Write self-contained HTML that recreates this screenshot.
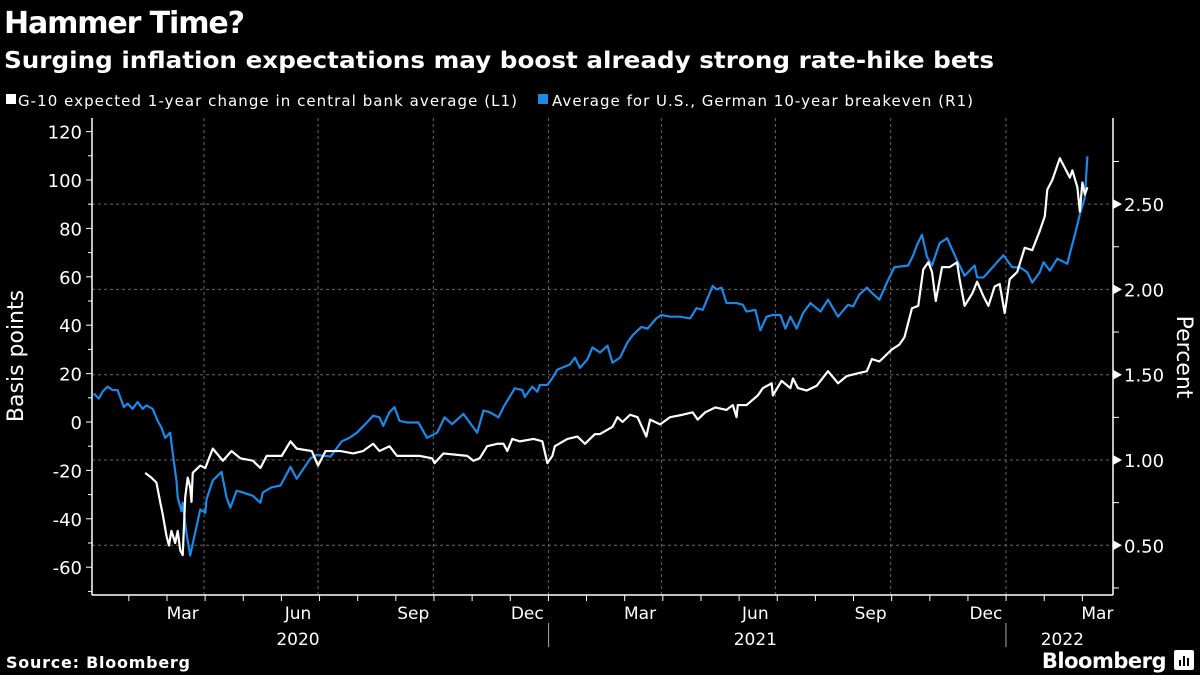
<!DOCTYPE html>
<html><head><meta charset="utf-8"><style>
body{margin:0;background:#000;width:1200px;height:675px;overflow:hidden;font-family:"DejaVu Sans",sans-serif;color:#fff}
svg{position:absolute;left:0;top:0}
text{font-family:"DejaVu Sans",sans-serif}
</style></head><body>
<svg id="chart" width="1200" height="675"></svg>
<script>
const blueDays=[3,7,10,14,18,22,27,30,34,38,42,45,50,54,57,60,64,66,69,70,73,74,77,80,82,88,92,93,98,105,109,112,117,122,130,136,138,145,152,160,165,176,181,192,201,207,213,221,226,231,234,239,243,247,253,262,269,277,283,289,298,303,309,314,319,326,330,339,345,347,353,357,359,365,369,373,383,387,391,397,401,407,413,417,423,429,433,440,445,452,456,463,471,479,484,489,497,500,504,508,516,521,524,531,535,540,545,551,555,559,564,569,575,583,589,597,605,609,614,620,624,630,636,642,653,657,660,664,668,672,678,684,692,698,706,708,713,718,724,729,736,742,748,752,758,761,766,772,780,782,786,790,794,796];
const blueValues=[1.39,1.36,1.40,1.43,1.41,1.41,1.31,1.33,1.30,1.34,1.30,1.32,1.30,1.23,1.19,1.13,1.16,1.04,0.88,0.78,0.70,0.75,0.57,0.44,0.51,0.71,0.69,0.77,0.88,0.93,0.78,0.72,0.82,0.81,0.79,0.75,0.81,0.84,0.85,0.96,0.89,1.01,1.03,1.02,1.11,1.13,1.16,1.22,1.26,1.25,1.20,1.28,1.31,1.23,1.22,1.22,1.13,1.16,1.25,1.21,1.27,1.22,1.16,1.29,1.28,1.25,1.31,1.42,1.41,1.37,1.43,1.40,1.44,1.44,1.48,1.53,1.56,1.60,1.54,1.59,1.66,1.63,1.67,1.57,1.60,1.69,1.73,1.78,1.77,1.83,1.85,1.84,1.84,1.83,1.89,1.88,2.02,2.00,2.01,1.92,1.92,1.91,1.87,1.88,1.76,1.84,1.85,1.85,1.77,1.84,1.77,1.86,1.92,1.87,1.94,1.84,1.91,1.90,1.97,2.01,1.98,1.94,2.04,2.13,2.14,2.20,2.26,2.32,2.19,2.14,2.27,2.30,2.17,2.08,2.14,2.07,2.07,2.11,2.16,2.20,2.13,2.13,2.10,2.04,2.10,2.16,2.11,2.18,2.15,2.21,2.32,2.44,2.54,2.78];
const whiteDays=[44,49,53,56,58,61,63,65,68,70,72,74,76,78,80,81,82,88,92,98,106,113,120,130,136,141,153,160,165,177,182,188,200,210,218,226,231,239,245,253,263,273,275,282,301,306,311,317,325,330,333,337,343,354,361,365,369,371,381,389,395,403,407,417,421,425,431,437,444,447,455,463,473,481,485,491,499,508,513,516,517,524,533,537,544,545,552,559,561,565,572,580,589,597,604,612,620,624,630,640,646,650,656,661,665,669,672,675,680,686,692,694,698,704,708,713,717,722,726,730,734,740,746,752,758,762,764,768,774,778,782,784,788,790,792,794,796];
const whiteValues=[-21,-23,-25,-33,-38,-47,-51,-45,-50,-45,-53,-55,-31,-23,-27,-33,-21,-18,-19,-11,-16,-12,-15,-16,-19,-14,-14,-8,-11,-12,-18,-12,-12,-13,-12,-9,-12,-10,-14,-14,-14,-15,-17,-13,-14,-16,-15,-10,-9,-9,-12,-7,-8,-7,-8,-17,-14,-10,-7,-6,-9,-5,-5,-2,2,0,3,2,-6,1,-1,2,3,4,1,4,6,5,7,2,7,7,11,14,16,11,17,14,18,14,13,15,21,16,19,20,21,26,25,30,32,35,47,48,63,66,62,50,64,64,66,59,48,53,58,52,48,56,57,45,59,62,72,71,79,85,96,100,109,105,101,104,97,87,99,94,97];
const leftTicks=[120,100,80,60,40,20,0,-20,-40,-60];
const rightTicks=[2.5,2.0,1.5,1.0,0.5];
const monthLabels=["Mar","Jun","Sep","Dec","Mar","Jun","Sep","Dec","Mar"];
const monthLabelDays=[74,166,258,349,439,531,623,715,804];
const gridDays=[91,182,274,366,456,547,639,731];
const yearLabels=["2020","2021","2022"];
const yearLabelDays=[166,531,776];
const yearSepDays=[366,731];

const X0=90,KX=1.253,PL=92,PR=1113,PT=118,PB=595;
const xs=d=>X0+d*KX;
const yl=v=>422-v*2.42;
const yr=p=>460-(p-1)*170.6;
const svg=document.getElementById('chart');
const NS='http://www.w3.org/2000/svg';
function mk(tag,attrs,parent){const e=document.createElementNS(NS,tag);for(const k in attrs)e.setAttribute(k,attrs[k]);(parent||svg).appendChild(e);return e;}
function txt(s,attrs){const e=mk('text',attrs);e.textContent=s;return e;}

let t;
t=txt('Hammer Time?',{x:4,y:33,'font-size':30,'font-weight':'bold',fill:'#fff',textLength:241});


t=txt('Surging inflation expectations may boost already strong rate-hike bets',{x:4,y:68,'font-size':23,'font-weight':'bold',fill:'#fff',textLength:990,lengthAdjust:'spacingAndGlyphs'});



let g=mk('g',{});


mk('rect',{x:6,y:94,width:10,height:10,fill:'#fff'},g);
const l1=mk('text',{x:18,y:106,'font-size':15,fill:'#fff',textLength:499},g);l1.textContent='G-10 expected 1-year change in central bank average (L1)';
g=mk('g',{});


mk('rect',{x:538,y:94,width:10,height:10,fill:'#1e88e5'},g);
const l2=mk('text',{x:552,y:106,'font-size':15,fill:'#fff',textLength:421},g);l2.textContent='Average for U.S., German 10-year breakeven (R1)';

rightTicks.forEach(p=>{const e=mk('line',{x1:PL,x2:PR,y1:yr(p),y2:yr(p),stroke:'#666','stroke-dasharray':'3,3','stroke-width':1});

});
gridDays.forEach(d=>{const e=mk('line',{x1:xs(d),x2:xs(d),y1:PT,y2:PB,stroke:'#666','stroke-dasharray':'3,3','stroke-width':1});

});

let a=mk('line',{x1:PL,x2:PL,y1:PT,y2:PB,stroke:'#fff','stroke-width':1.5});


a=mk('line',{x1:PR,x2:PR,y1:PT,y2:PB,stroke:'#fff','stroke-width':1.5});


a=mk('line',{x1:PL,x2:PR,y1:PB,y2:PB,stroke:'#fff','stroke-width':1.5});



leftTicks.forEach(v=>{mk('line',{x1:PL-6,x2:PL,y1:yl(v),y2:yl(v),stroke:'#fff'});mk('line',{x1:PL-4,x2:PL,y1:yl(v-10),y2:yl(v-10),stroke:'#fff'});
const e=txt(String(v),{x:PL-10,y:yl(v)+7,'font-size':18,fill:'#fff','text-anchor':'end'});

});
rightTicks.forEach(p=>{mk('path',{d:`M${PR} ${yr(p)-5}L${PR+9} ${yr(p)}L${PR} ${yr(p)+5}Z`,fill:'#fff'});
mk('line',{x1:PR,x2:PR+6,y1:yr(p+0.25),y2:yr(p+0.25),stroke:'#fff'});
const e=txt(p.toFixed(2),{x:PR+11,y:yr(p)+7,'font-size':18,fill:'#fff'});

});
mk('line',{x1:PR,x2:PR+6,y1:yr(0.25),y2:yr(0.25),stroke:'#fff'});

for(let d=31;d<=820;d+=30.44){mk('line',{x1:xs(d),x2:xs(d),y1:PB,y2:PB+6,stroke:'#fff'});}
monthLabels.forEach((m,i)=>{const e=txt(m,{x:xs(monthLabelDays[i]),y:PB+24,'font-size':17,fill:'#fff','text-anchor':'middle'});

});
yearLabels.forEach((m,i)=>{const e=txt(m,{x:xs(yearLabelDays[i]),y:PB+50,'font-size':17,fill:'#fff','text-anchor':'middle'});

});
yearSepDays.forEach(d=>{const e=mk('line',{x1:xs(d),x2:xs(d),y1:PB+28,y2:PB+52,stroke:'#aaa'});

});

t=txt('Basis points',{x:0,y:0,'font-size':22,fill:'#fff','text-anchor':'middle',transform:'translate(23,356) rotate(-90)'});


t=txt('Percent',{x:0,y:0,'font-size':22,fill:'#fff','text-anchor':'middle',transform:'translate(1177,357) rotate(90)'});



const bp=mk('polyline',{points:blueDays.map((d,i)=>xs(d)+','+yr(blueValues[i])).join(' '),fill:'none',stroke:'#1e88e5','stroke-width':2.2,'stroke-linejoin':'round'});


const wp=mk('polyline',{points:whiteDays.map((d,i)=>xs(d)+','+yl(whiteValues[i])).join(' '),fill:'none',stroke:'#fff','stroke-width':2.2,'stroke-linejoin':'round'});



t=txt('Source: Bloomberg',{x:6,y:668,'font-size':16,'font-weight':'bold',fill:'#fff',textLength:184});


t=txt('Bloomberg',{x:1166,y:668,'font-size':21,'font-weight':'bold',fill:'#fff','text-anchor':'end','letter-spacing':'-0.5'});


g=mk('g',{});


mk('rect',{x:1174,y:650,width:20,height:20,rx:2,fill:'#fff'},g);
mk('rect',{x:1179,y:660,width:2,height:6,fill:'#000'},g);
mk('rect',{x:1183,y:656,width:2,height:10,fill:'#000'},g);
mk('rect',{x:1187,y:658,width:2,height:8,fill:'#000'},g);
</script>
</body></html>
